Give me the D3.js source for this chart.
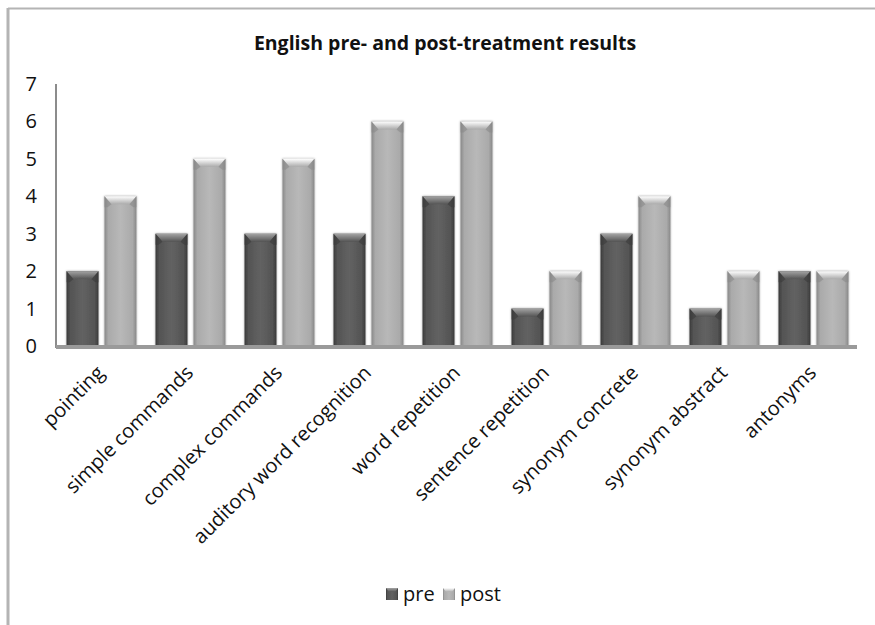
<!DOCTYPE html>
<html>
<head>
<meta charset="utf-8">
<script src="https://cdn.jsdelivr.net/npm/d3@7"></script>
<style>
  html, body { margin: 0; padding: 0; background: #fff; }
  svg { display: block; }
</style>
</head>
<body>
<svg id="chart" width="875" height="625"></svg>
<script>
// Test scores per subtest, before and after treatment
const categories = ["pointing", "simple commands", "complex commands", "auditory word recognition",
  "word repetition", "sentence repetition", "synonym concrete", "synonym abstract", "antonyms"];
const preValues  = [2, 3, 3, 3, 4, 1, 3, 1, 2];
const postValues = [4, 5, 5, 6, 6, 2, 4, 2, 2];
const seriesNames = ["pre", "post"];
const yTicks = [0, 1, 2, 3, 4, 5, 6, 7];

const svg = d3.select("#chart");
const W = 875, H = 625;
const plot = { left: 56, right: 857, top: 84, bottom: 346 };
const FONT = "'Open Sans', sans-serif";

const palette = {
  pre:  { edge: "#3a3a3a", mid: "#545454", light: "#626262", cap: "#a4a4a4" },
  post: { edge: "#888888", mid: "#aaaaaa", light: "#b8b8b8", cap: "#ffffff" }
};

const defs = svg.append("defs");
seriesNames.forEach(s => {
  const c = palette[s];
  const g = defs.append("linearGradient").attr("id", "body-" + s)
    .attr("x1", "0").attr("x2", "1").attr("y1", "0").attr("y2", "0");
  [[0, c.edge], [0.12, c.mid], [0.5, c.light], [0.88, c.mid], [1, c.edge]]
    .forEach(([o, col]) => g.append("stop").attr("offset", o).attr("stop-color", col));
  const cap = defs.append("linearGradient").attr("id", "cap-" + s)
    .attr("x1", "0").attr("x2", "0").attr("y1", "0").attr("y2", "1");
  [[0, c.cap], [1, c.mid]].forEach(([o, col]) => cap.append("stop").attr("offset", o).attr("stop-color", col));
});
const shadow = defs.append("filter").attr("id", "soft").attr("x", "-20%").attr("y", "-20%")
  .attr("width", "140%").attr("height", "140%");
shadow.append("feDropShadow").attr("dx", 0).attr("dy", 0).attr("stdDeviation", 1.2)
  .attr("flood-color", "#000").attr("flood-opacity", 0.35);

// Frame (top and left edges)
svg.append("line").attr("x1", 8).attr("x2", W).attr("y1", 8.5).attr("y2", 8.5)
  .attr("stroke", "#b4b4b4").attr("stroke-width", 2);
svg.append("line").attr("x1", 8).attr("x2", 8).attr("y1", 8).attr("y2", H)
  .attr("stroke", "#b4b4b4").attr("stroke-width", 3);

// Title
svg.append("text").attr("x", 445).attr("y", 50).attr("text-anchor", "middle")
  .attr("font-family", FONT).attr("font-weight", "bold")
  .attr("font-size", 19.5).attr("fill", "#111")
  .text("English pre- and post-treatment results");

const x0 = d3.scaleBand().domain(categories).range([plot.left, plot.right]).padding(0);
const x1 = d3.scaleBand().domain(seriesNames)
  .range([x0.bandwidth() * 0.118, x0.bandwidth() * 0.904]).paddingInner(0.158);
const y = d3.scaleLinear().domain([0, 7]).range([plot.bottom, plot.top]);

// Y tick labels
svg.append("g").selectAll("text").data(yTicks).join("text")
  .attr("x", 37).attr("y", d => y(d)).attr("dy", "0.35em").attr("text-anchor", "end")
  .attr("font-family", FONT).attr("font-size", 20).attr("fill", "#111")
  .text(d => d);

// Y axis line
svg.append("line").attr("x1", plot.left).attr("x2", plot.left)
  .attr("y1", plot.top).attr("y2", plot.bottom + 2)
  .attr("stroke", "#8c8c8c").attr("stroke-width", 2);

// Bars
const rows = categories.map((c, i) => ({ cat: c, pre: preValues[i], post: postValues[i] }));
const groups = svg.append("g").selectAll("g").data(rows).join("g")
  .attr("transform", d => `translate(${x0(d.cat)},0)`);

groups.each(function(d) {
  const g = d3.select(this);
  seriesNames.forEach(s => {
    const bx = x1(s), bw = x1.bandwidth();
    const top = y(d[s]), bot = y(0);
    const bar = g.append("g").attr("filter", "url(#soft)");
    bar.append("rect").attr("x", bx).attr("y", top).attr("width", bw).attr("height", bot - top)
      .attr("fill", `url(#body-${s})`);
    const bev = 7;
    bar.append("path")
      .attr("d", `M${bx},${top}L${bx + bw},${top}L${bx + bw - bev},${top + bev + 1}L${bx + bev},${top + bev + 1}Z`)
      .attr("fill", `url(#cap-${s})`);
    bar.append("path")
      .attr("d", `M${bx},${top}L${bx + bev},${top + bev + 1}L${bx + 3},${top + bev + 4}L${bx},${top + bev + 4}Z`)
      .attr("fill", palette[s].edge).attr("opacity", 0.6);
    bar.append("path")
      .attr("d", `M${bx + bw},${top}L${bx + bw - bev},${top + bev + 1}L${bx + bw - 3},${top + bev + 4}L${bx + bw},${top + bev + 4}Z`)
      .attr("fill", palette[s].edge).attr("opacity", 0.6);
  });
});

// Baseline
svg.append("line").attr("x1", plot.left).attr("x2", plot.right)
  .attr("y1", plot.bottom + 1).attr("y2", plot.bottom + 1)
  .attr("stroke", "#9a9a9a").attr("stroke-width", 4);

// Category labels, rotated
svg.append("g").selectAll("text").data(categories).join("text")
  .attr("transform", d => `translate(${x0(d) + x0.bandwidth() / 2},${plot.bottom + 23}) rotate(-45)`)
  .attr("text-anchor", "end").attr("dy", "0.35em")
  .attr("font-family", FONT).attr("font-size", 20).attr("fill", "#111")
  .text(d => d);

// Legend
const legend = svg.append("g");
const legendItems = [{ s: "pre", x: 386 }, { s: "post", x: 443 }];
legendItems.forEach(it => {
  const lg = legend.append("g").attr("transform", `translate(${it.x},${588})`);
  lg.append("rect").attr("width", 12).attr("height", 12).attr("fill", `url(#body-${it.s})`);
  lg.append("path").attr("d", "M0,0L12,0L9,4L3,4Z").attr("fill", `url(#cap-${it.s})`);
  lg.append("text").attr("x", 17).attr("y", 6).attr("dy", "0.35em")
    .attr("font-family", FONT).attr("font-size", 20).attr("fill", "#111")
    .text(it.s);
});
</script>
</body>
</html>
